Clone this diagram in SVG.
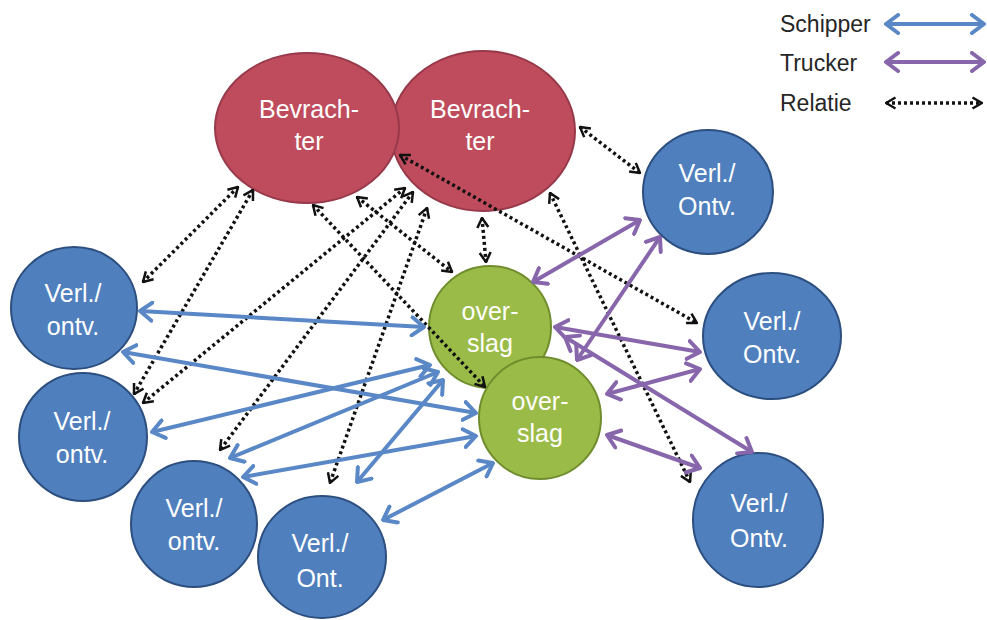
<svg xmlns="http://www.w3.org/2000/svg" width="987" height="620" viewBox="0 0 987 620">
<defs>
<style>
.t{font-family:"Liberation Sans",Arial,sans-serif;font-size:25px;fill:#ffffff;text-anchor:middle}
.lg{font-family:"Liberation Sans",Arial,sans-serif;font-size:23px;fill:#262626}
.red{fill:#bf4c5c;stroke:#97394a;stroke-width:2}
.blue{fill:#4f7fbd;stroke:#2c4f80;stroke-width:2}
.green{fill:#9bbb48;stroke:#6f8d2c;stroke-width:2}
.sb{stroke:#5a88c6;stroke-width:4;fill:none;marker-start:url(#hb);marker-end:url(#hb)}
.sp{stroke:#8766ab;stroke-width:4;fill:none;marker-start:url(#hp);marker-end:url(#hp)}
.sd{stroke:#111111;stroke-width:3.5;fill:none;stroke-dasharray:3 3;marker-start:url(#hd);marker-end:url(#hd)}
</style>
<marker id="hb" viewBox="0 0 16 22" refX="14" refY="11" markerWidth="16" markerHeight="22" markerUnits="userSpaceOnUse" orient="auto-start-reverse"><path d="M2,2 L14,11 L2,20" fill="none" stroke="#5a88c6" stroke-width="4" stroke-linecap="round" stroke-linejoin="round"/></marker>
<marker id="hp" viewBox="0 0 16 22" refX="14" refY="11" markerWidth="16" markerHeight="22" markerUnits="userSpaceOnUse" orient="auto-start-reverse"><path d="M2,2 L14,11 L2,20" fill="none" stroke="#8766ab" stroke-width="4" stroke-linecap="round" stroke-linejoin="round"/></marker>
<marker id="hd" viewBox="0 0 12 14" refX="11" refY="7" markerWidth="12" markerHeight="14" markerUnits="userSpaceOnUse" orient="auto-start-reverse"><path d="M1.5,1.5 L11,7 L1.5,12.5" fill="none" stroke="#111111" stroke-width="2.5" stroke-linejoin="miter"/></marker>
</defs>
<rect width="987" height="620" fill="#ffffff"/>

<g id="bevrachter2"><ellipse class="red" cx="483" cy="131" rx="92" ry="80"/><text class="t" x="480" y="118">Bevrach-</text><text class="t" x="480" y="150">ter</text></g>
<g id="bevrachter1"><ellipse class="red" cx="307" cy="128" rx="92" ry="75"/><text class="t" x="309" y="118">Bevrach-</text><text class="t" x="309" y="150">ter</text></g>
<g id="left1"><ellipse class="blue" cx="74" cy="308" rx="63" ry="61"/><text class="t" x="73" y="302">Verl./</text><text class="t" x="73" y="335">ontv.</text></g>
<g id="left2"><ellipse class="blue" cx="83" cy="437" rx="64" ry="64"/><text class="t" x="82" y="430">Verl./</text><text class="t" x="82" y="463">ontv.</text></g>
<g id="bottom1"><ellipse class="blue" cx="194" cy="524" rx="63" ry="63"/><text class="t" x="194" y="517">Verl./</text><text class="t" x="194" y="550">ontv.</text></g>
<g id="bottom2"><ellipse class="blue" cx="322" cy="557" rx="64" ry="61"/><text class="t" x="320" y="552">Verl./</text><text class="t" x="320" y="587">Ont.</text></g>
<g id="overslag1"><circle class="green" cx="490" cy="327" r="61"/><text class="t" x="490" y="320">over-</text><text class="t" x="490" y="352">slag</text></g>
<g id="overslag2"><circle class="green" cx="540" cy="418" r="61"/><text class="t" x="540" y="410">over-</text><text class="t" x="540" y="442">slag</text></g>
<g id="right1"><ellipse class="blue" cx="708" cy="192" rx="65" ry="62"/><text class="t" x="707" y="182">Verl./</text><text class="t" x="707" y="215">Ontv.</text></g>
<g id="right2"><ellipse class="blue" cx="772" cy="336" rx="69" ry="63"/><text class="t" x="772" y="330">Verl./</text><text class="t" x="772" y="363">Ontv.</text></g>
<g id="right3"><ellipse class="blue" cx="758" cy="520" rx="65" ry="67"/><text class="t" x="759" y="512">Verl./</text><text class="t" x="759" y="547">Ontv.</text></g>

<g id="connectors">
<line class="sd" x1="238" y1="187" x2="143" y2="282"/>
<line class="sd" x1="253" y1="190" x2="134" y2="394"/>
<line class="sd" x1="405" y1="188" x2="143" y2="403"/>
<line class="sd" x1="413" y1="192" x2="220" y2="450"/>
<line class="sd" x1="427" y1="208" x2="330" y2="483"/>
<line class="sd" x1="313" y1="205" x2="485" y2="387"/>
<line class="sd" x1="357" y1="197" x2="452" y2="272"/>
<line class="sd" x1="482" y1="218" x2="486" y2="262"/>
<line class="sd" x1="400" y1="155" x2="697" y2="323"/>
<line class="sd" x1="550" y1="193" x2="690" y2="482"/>
<line class="sd" x1="580" y1="127" x2="640" y2="173"/>

<line class="sb" x1="140" y1="311" x2="424" y2="327"/>
<line class="sb" x1="123" y1="352" x2="476" y2="413"/>
<line class="sb" x1="152" y1="432" x2="430" y2="365"/>
<line class="sb" x1="230" y1="458" x2="438" y2="372"/>
<line class="sb" x1="243" y1="477" x2="476" y2="436"/>
<line class="sb" x1="357" y1="482" x2="443" y2="380"/>
<line class="sb" x1="383" y1="520" x2="493" y2="463"/>

<line class="sp" x1="533" y1="282" x2="640" y2="220"/>
<line class="sp" x1="660" y1="237" x2="577" y2="360"/>
<line class="sp" x1="555" y1="327" x2="700" y2="352"/>
<line class="sp" x1="565" y1="337" x2="752" y2="452"/>
<line class="sp" x1="607" y1="394" x2="700" y2="369"/>
<line class="sp" x1="607" y1="435" x2="700" y2="468"/>
</g>

<g id="legend">
<text class="lg" x="780" y="32">Schipper</text>
<text class="lg" x="780" y="71">Trucker</text>
<text class="lg" x="780" y="111">Relatie</text>
<line class="sb" x1="886" y1="24" x2="984" y2="24"/>
<line class="sp" x1="886" y1="62" x2="984" y2="62"/>
<line class="sd" x1="886" y1="103" x2="982" y2="103"/>
</g>
</svg>
